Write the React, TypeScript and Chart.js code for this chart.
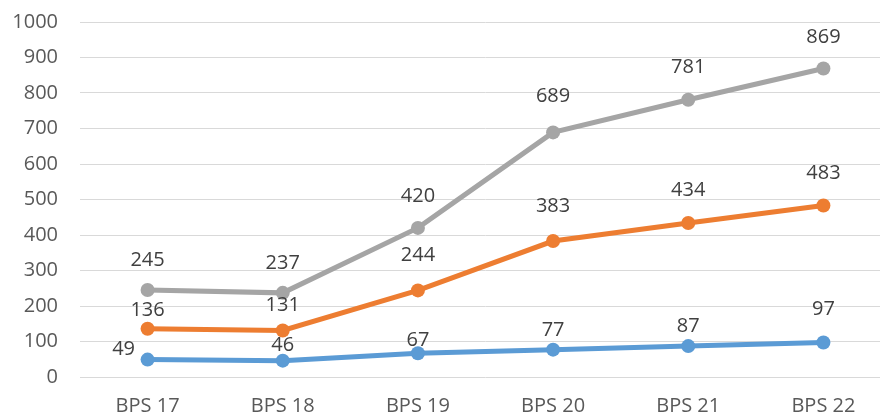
import React, { useEffect, useRef } from "react";
import { Chart, registerables } from "chart.js";

Chart.register(...registerables);

const categories = ["BPS 17", "BPS 18", "BPS 19", "BPS 20", "BPS 21", "BPS 22"];
const seriesBlue = [49, 46, 67, 77, 87, 97];
const seriesOrange = [136, 131, 244, 383, 434, 483];
const seriesGray = [245, 237, 420, 689, 781, 869];
const yTicks = [0, 100, 200, 300, 400, 500, 600, 700, 800, 900, 1000];

// label placement (style only): [dx, dy] per point
const blueLabelPos = [[-24, -10], [0, -15], [0, -13], [0, -19], [0, -20], [0, -33]];
const orangeLabelPos = [[0, -18], [0, -25], [0, -35], [0, -35], [0, -33], [0, -32]];
const grayLabelPos = [[0, -30], [0, -30], [0, -32], [0, -36], [0, -32], [0, -31]];

const FONT = "'Open Sans', 'Liberation Sans', sans-serif";

const labelPlugin = {
  id: "pointLabels",
  afterDatasetsDraw(chart: any) {
    const ctx = chart.ctx;
    const positions = [blueLabelPos, orangeLabelPos, grayLabelPos];
    ctx.save();
    ctx.font = `20px ${FONT}`;
    ctx.fillStyle = "#404040";
    ctx.textAlign = "center";
    ctx.textBaseline = "middle";
    chart.data.datasets.forEach((ds: any, i: number) => {
      const meta = chart.getDatasetMeta(i);
      meta.data.forEach((pt: any, j: number) => {
        const p = positions[i][j];
        ctx.fillText(String(ds.data[j]), pt.x + p[0], pt.y + p[1]);
      });
    });
    ctx.restore();
  },
};

export default function App() {
  const ref = useRef<HTMLCanvasElement>(null);
  useEffect(() => {
    document.body.style.margin = "0";
    const mk = (label: string, data: number[], color: string) => ({
      label,
      data,
      borderColor: color,
      backgroundColor: color,
      borderWidth: 5,
      pointRadius: 7,
      pointHoverRadius: 7,
      pointBorderWidth: 0,
      tension: 0,
    });
    const chart = new Chart(ref.current!, {
      type: "line",
      data: {
        labels: categories,
        datasets: [
          mk("Series 1", seriesBlue, "#5B9BD5"),
          mk("Series 2", seriesOrange, "#ED7D31"),
          mk("Series 3", seriesGray, "#A5A5A5"),
        ],
      },
      options: {
        responsive: false,
        animation: false,
        layout: { padding: { top: 22, left: 0, right: 0, bottom: 0 } },
        plugins: { legend: { display: false }, tooltip: { enabled: false } },
        scales: {
          x: {
            offset: true,
            grid: { display: false, drawTicks: false },
            border: { display: false },
            ticks: { color: "#595959", font: { size: 20, family: FONT }, padding: 17, maxRotation: 0 },
            afterFit: (s: any) => { s.height = 38; s.paddingLeft = 0; s.paddingRight = 0; },
          },
          y: {
            min: 0,
            max: 1000,
            afterBuildTicks: (s: any) => { s.ticks = yTicks.map((v) => ({ value: v })); },
            grid: { color: "#D9D9D9", lineWidth: 1, drawTicks: false },
            border: { display: false },
            ticks: {
              color: "#595959",
              font: { size: 20, family: FONT },
              padding: 22,
              callback: (v: any) => String(v),
            },
            afterFit: (s: any) => { s.width = 80; s.paddingTop = 0; s.paddingBottom = 0; },
          },
        },
      },
      plugins: [labelPlugin],
    });
    return () => chart.destroy();
  }, []);
  return (
    <div style={{ width: 880, height: 415, overflow: "hidden", background: "#fff" }}>
      <canvas ref={ref} width={898} height={415} style={{ display: "block" }} />
    </div>
  );
}
